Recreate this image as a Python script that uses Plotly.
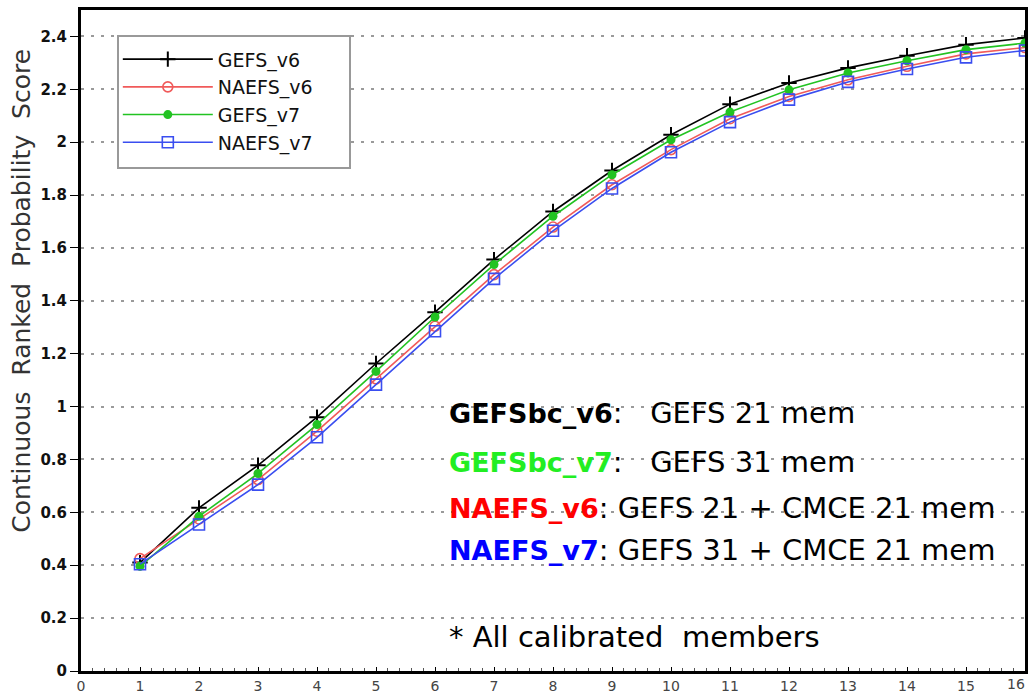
import plotly.graph_objects as go

lead_days = list(range(1, 17))
gefs_v6 = [0.41, 0.617, 0.778, 0.960, 1.163, 1.357, 1.556, 1.738, 1.893, 2.028, 2.144, 2.224, 2.281, 2.327, 2.369, 2.394]
naefs_v6 = [0.425, 0.575, 0.724, 0.907, 1.105, 1.304, 1.499, 1.679, 1.839, 1.972, 2.089, 2.173, 2.236, 2.287, 2.334, 2.358]
gefs_v7 = [0.396, 0.585, 0.747, 0.932, 1.133, 1.339, 1.537, 1.720, 1.877, 2.009, 2.114, 2.198, 2.262, 2.308, 2.350, 2.375]
naefs_v7 = [0.404, 0.554, 0.705, 0.884, 1.083, 1.285, 1.483, 1.665, 1.825, 1.962, 2.076, 2.161, 2.228, 2.277, 2.321, 2.347]

series_names = ["GEFS_v6", "NAEFS_v6", "GEFS_v7", "NAEFS_v7"]
y_ticks = [0, 0.2, 0.4, 0.6, 0.8, 1, 1.2, 1.4, 1.6, 1.8, 2, 2.2, 2.4]
x_ticks = list(range(0, 17))

styles = [
    dict(color="#000000", symbol="cross-thin-open", size=11, lw=1.6, mlw=2),
    dict(color="#f05a5a", symbol="circle-open", size=10, lw=1.6, mlw=1.6),
    dict(color="#22c322", symbol="circle", size=9, lw=1.6, mlw=0),
    dict(color="#3a4ef0", symbol="square-open", size=11, lw=1.6, mlw=1.6),
]

fig = go.Figure()
for name, vals, st in zip(series_names, [gefs_v6, naefs_v6, gefs_v7, naefs_v7], styles):
    fig.add_trace(go.Scatter(
        x=lead_days, y=vals, name=name, mode="lines+markers",
        line=dict(color=st["color"], width=st["lw"]),
        marker=dict(symbol=st["symbol"], size=st["size"], color=st["color"],
                    line=dict(color=st["color"], width=st["mlw"])),
    ))

nb = "\u00a0"
ytitle = f"Continuous{nb} Ranked{nb} Probability{nb} Score"

PL, PR, PT, PB = 81, 1025, 10, 671.5
def px_to_paper(px, py):
    return (px - PL) / (PR - PL), (PB - py) / (PB - PT)

xfont = dict(family="DejaVu Sans", size=14, color="#444444")

fig.update_layout(
    width=1029, height=694,
    margin=dict(l=81, r=4, t=10, b=22.5, autoexpand=False),
    paper_bgcolor="white", plot_bgcolor="white",
    showlegend=True,
    legend=dict(
        x=0.039, y=0.962, xanchor="left", yanchor="top",
        bgcolor="rgba(0,0,0,0)", borderwidth=0,
        font=dict(family="DejaVu Sans", size=19, color="#111111"),
        itemwidth=90, tracegroupgap=1,
        title=dict(text=nb, font=dict(size=4)),
    ),
    xaxis=dict(
        range=[0, 16], tickvals=x_ticks,
        ticktext=[str(v) if v < x_ticks[-1] else "" for v in x_ticks],
        showgrid=False, zeroline=False, automargin=False,
        showline=True, linecolor="black", linewidth=3, mirror=True,
        ticks="inside", ticklen=4, tickcolor="black",
        minor=dict(ticks="inside", ticklen=3, dtick=0.2, tickcolor="#555555"),
        tickfont=xfont,
    ),
    yaxis=dict(
        range=[0, 2.5], tickvals=y_ticks, automargin=False,
        showgrid=True, gridcolor="#9a9a9a", gridwidth=2, griddash="3px,7px",
        zeroline=False,
        showline=True, linecolor="black", linewidth=3, mirror=True,
        ticks="outside", ticklen=8, tickcolor="black",
        tickfont=dict(family="DejaVu Sans", size=15, color="#111111", weight="bold"),
    ),
)

# last x tick label, kept inside the picture
fig.add_annotation(
    x=x_ticks[-1], y=0, xref="x", yref="paper", xanchor="right", yanchor="top",
    yshift=-3, xshift=2, showarrow=False, text=str(x_ticks[-1]), font=xfont,
)

# legend frame
lx0, ly0 = px_to_paper(118, 168)
lx1, ly1 = px_to_paper(350, 36)
fig.add_shape(type="rect", xref="paper", yref="paper", x0=lx0, y0=ly0, x1=lx1, y1=ly1,
              line=dict(color="#999999", width=2), fillcolor="white", layer="above")

tx, ty = px_to_paper(22, 291)
fig.add_annotation(
    x=tx, y=ty, xref="paper", yref="paper", xanchor="center", yanchor="middle",
    showarrow=False, textangle=-90, text=ytitle,
    font=dict(family="DejaVu Sans", size=25, color="#333333"),
)

text_font = "DejaVu Sans"
B = "<b><span style='font-size:27px%s'>%s</span></b>"
lines = [
    (B % ("", "GEFSbc_v6") + ":   GEFS 21 mem", 413),
    (B % (";color:#22ee22", "GEFSbc_v7") + ":   GEFS 31 mem", 462),
    (B % (";color:#ff0000", "NAEFS_v6") + ": GEFS 21 + CMCE 21 mem", 508),
    (B % (";color:#0000ff", "NAEFS_v7") + ": GEFS 31 + CMCE 21 mem", 550),
    ("* All calibrated  members", 637),
]
for txt, py in lines:
    ax, ay = px_to_paper(447, py)
    fig.add_annotation(
        x=ax, y=ay, xref="paper", yref="paper",
        xanchor="left", yanchor="middle", showarrow=False,
        text=txt, font=dict(family=text_font, size=29, color="#000000"),
    )

fig.write_html("out.html")
